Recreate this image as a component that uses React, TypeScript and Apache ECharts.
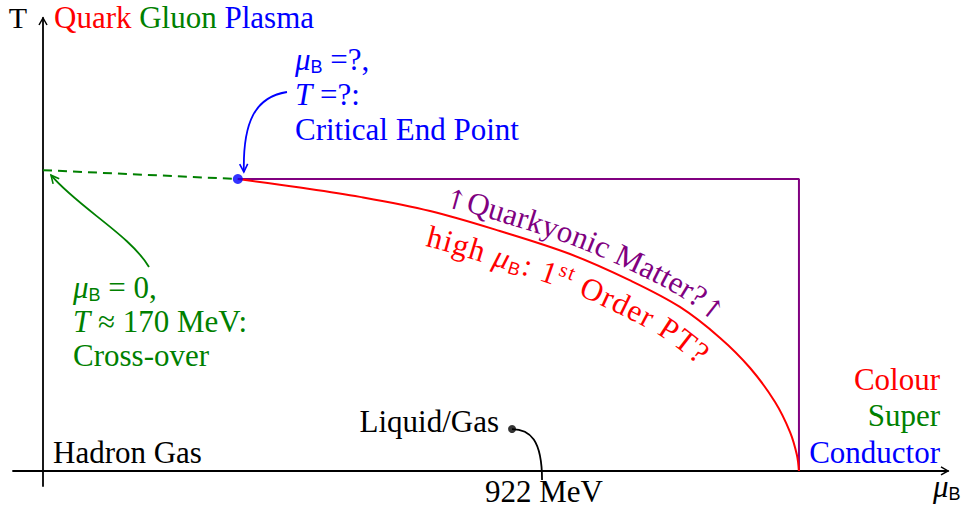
import React, { useEffect, useRef } from "react";
import * as echarts from "echarts";

const W = 972;
const H = 513;

// ---- data (baryon chemical potential mu_B and temperature T, MeV) ----
const crossoverMuB = [0, 383];
const crossoverT = [170, 165];
const firstOrderMuB = [383, 505, 623, 761, 898, 1036, 1154, 1252, 1331, 1390, 1439, 1468.5, 1482, 1486];
const firstOrderT = [165, 160.2, 154.9, 146.9, 135.6, 122.6, 107.7, 92.7, 75.2, 58.2, 39, 22, 9, 0];
const quarkyonicMuB = [383, 1486, 1486];
const quarkyonicT = [165, 165, 0];
const criticalEndPoint = [383, 165];
const liquidGasPoint = [922, 23.7];
const muBRange = [-59, 1779];
const tRange = [-8.5, 256];

const zip = (a: number[], b: number[]) => a.map((v, i) => [v, b[i]]);

// ---- fonts ----
const SERIF = "Liberation Serif, Times New Roman, serif";
const SANS = "Liberation Sans, Arial, sans-serif";
const ARROWF = "DejaVu Serif, serif";
const FS = 31;
const SUB = 18;
const SUP = 21;

type Tok = { t: string; fam: string; size: number; italic?: boolean; dy?: number; color?: string };
const R = (t: string, color?: string, size = FS): Tok => ({ t, fam: SERIF, size, color });
const I = (t: string): Tok => ({ t, fam: SERIF, size: FS, italic: true });
const Sb = (t: string): Tok => ({ t, fam: SANS, size: SUB, dy: 3 });
const Sp = (t: string): Tok => ({ t, fam: SERIF, size: SUP, dy: -11 });
const Ar = (t: string): Tok => ({ t, fam: ARROWF, size: 27, dy: 1 });

const BLUE = "#0000ff";
const GREEN = "#008000";
const RED = "#ff0000";
const PURPLE = "#800080";
const BLACK = "#000000";

let ctx: CanvasRenderingContext2D | null = null;
function getCtx() {
  if (!ctx) ctx = document.createElement("canvas").getContext("2d");
  return ctx!;
}
const fontOf = (k: Tok) => `${k.italic ? "italic " : ""}${k.size}px ${k.fam}`;
function measure(k: Tok, s: string) {
  const c = getCtx();
  c.font = fontOf(k);
  return c.measureText(s).width;
}
function central(k: Tok) {
  const c = getCtx();
  c.font = fontOf(k);
  const m: any = c.measureText("Hg");
  if (m.fontBoundingBoxAscent) return (m.fontBoundingBoxAscent - m.fontBoundingBoxDescent) / 2;
  return 0.34 * k.size;
}

function textEl(k: Tok, s: string, x: number, y: number, color: string, rotation: number, align: string) {
  return {
    type: "text",
    x,
    y,
    rotation,
    silent: true,
    z: 100,
    style: {
      text: s,
      fill: color,
      font: fontOf(k),
      align,
      verticalAlign: "middle",
    },
  };
}

function hline(toks: Tok[], x: number, baseline: number, color: string, align: "left" | "right" | "center") {
  const widths = toks.map((k) => measure(k, k.t));
  const total = widths.reduce((a, b) => a + b, 0);
  let cx = align === "left" ? x : align === "right" ? x - total : x - total / 2;
  const out: any[] = [];
  toks.forEach((k) => {
    const lead = (k.t.match(/^ */) as RegExpMatchArray)[0];
    const body = k.t.slice(lead.length);
    cx += measure(k, lead);
    if (body.trim().length) {
      out.push(textEl(k, body, cx, baseline + (k.dy || 0) - central(k), k.color || color, 0, "left"));
    }
    cx += measure(k, body);
  });
  return out;
}

function catmullRom(P: number[][], n = 30) {
  const out: number[][] = [];
  for (let i = 0; i < P.length - 1; i++) {
    const p0 = P[Math.max(i - 1, 0)];
    const p1 = P[i];
    const p2 = P[i + 1];
    const p3 = P[Math.min(i + 2, P.length - 1)];
    for (let j = 0; j < n; j++) {
      const t = j / n;
      const t2 = t * t;
      const t3 = t2 * t;
      const f = (a: number, b: number, c: number, d: number) =>
        0.5 * (2 * b + (-a + c) * t + (2 * a - 5 * b + 4 * c - d) * t2 + (-a + 3 * b - 3 * c + d) * t3);
      out.push([f(p0[0], p1[0], p2[0], p3[0]), f(p0[1], p1[1], p2[1], p3[1])]);
    }
  }
  out.push(P[P.length - 1]);
  return out;
}

function offsetPath(D: number[][], raise: number) {
  const Q = D.map((p, i) => {
    const a = D[Math.max(i - 4, 0)];
    const b = D[Math.min(i + 4, D.length - 1)];
    let tx = b[0] - a[0];
    let ty = b[1] - a[1];
    const l = Math.hypot(tx, ty) || 1;
    tx /= l;
    ty /= l;
    return [p[0] + ty * raise, p[1] - tx * raise];
  });
  const S = [0];
  for (let i = 1; i < Q.length; i++) S.push(S[i - 1] + Math.hypot(Q[i][0] - Q[i - 1][0], Q[i][1] - Q[i - 1][1]));
  return { Q, S };
}

function at(Q: number[][], S: number[], s: number) {
  let j = 0;
  while (j < S.length - 2 && S[j + 1] < s) j++;
  const seg = S[j + 1] - S[j] || 1;
  const t = (s - S[j]) / seg;
  const p = [Q[j][0] + (Q[j + 1][0] - Q[j][0]) * t, Q[j][1] + (Q[j + 1][1] - Q[j][1]) * t];
  const a = Q[Math.max(j - 4, 0)];
  const b = Q[Math.min(j + 5, Q.length - 1)];
  const tx = b[0] - a[0];
  const ty = b[1] - a[1];
  const l = Math.hypot(tx, ty) || 1;
  return { p, t: [tx / l, ty / l] };
}

function sAtX(Q: number[][], S: number[], x: number) {
  for (let j = 0; j < Q.length - 1; j++) {
    if (Q[j][0] <= x && Q[j + 1][0] >= x) {
      const t = (x - Q[j][0]) / (Q[j + 1][0] - Q[j][0] || 1);
      return S[j] + (S[j + 1] - S[j]) * t;
    }
  }
  return x < Q[0][0] ? 0 : S[S.length - 1];
}

function pathText(toks: Tok[], D: number[][], raise: number, startX: number, endX: number, color: string) {
  const { Q, S } = offsetPath(D, raise);
  const glyphs: { k: Tok; ch: string; w: number }[] = [];
  toks.forEach((k) => {
    for (const ch of Array.from(k.t)) glyphs.push({ k, ch, w: measure(k, ch) });
  });
  const s0 = sAtX(Q, S, startX);
  const s1 = sAtX(Q, S, endX);
  const total = glyphs.reduce((a, g) => a + g.w, 0);
  const gap = glyphs.length > 1 ? (s1 - s0 - total) / (glyphs.length - 1) : 0;
  let s = s0;
  const out: any[] = [];
  glyphs.forEach((g) => {
    const sc = s + g.w / 2;
    const { p, t } = at(Q, S, sc);
    const up = [t[1], -t[0]];
    const off = -(g.k.dy || 0) + central(g.k);
    if (g.ch !== " ") {
      out.push(textEl(g.k, g.ch, p[0] + up[0] * off, p[1] + up[1] * off, g.k.color || color, -Math.atan2(t[1], t[0]), "center"));
    }
    s += g.w + gap;
  });
  return out;
}

function arrowHead(tip: number[], from: number[], color: string, len = 8, half = 4, lw = 1.6) {
  let dx = tip[0] - from[0];
  let dy = tip[1] - from[1];
  const l = Math.hypot(dx, dy) || 1;
  dx /= l;
  dy /= l;
  const bx = tip[0] - dx * len;
  const by = tip[1] - dy * len;
  return {
    type: "polyline",
    silent: true,
    z: 90,
    shape: {
      points: [
        [bx - dy * half, by + dx * half],
        [tip[0], tip[1]],
        [bx + dy * half, by - dx * half],
      ],
    },
    style: { stroke: color, lineWidth: lw, fill: null, lineJoin: "miter" },
  };
}

function bezier(p0: number[], c1: number[], c2: number[], p3: number[], color: string, lw = 1.8) {
  return {
    type: "bezierCurve",
    silent: true,
    z: 90,
    shape: { x1: p0[0], y1: p0[1], cpx1: c1[0], cpy1: c1[1], cpx2: c2[0], cpy2: c2[1], x2: p3[0], y2: p3[1] },
    style: { stroke: color, lineWidth: lw, fill: null },
  };
}

const axisCommon = {
  type: "value",
  axisLine: { show: true, onZero: true, lineStyle: { color: BLACK, width: 1.8 } },
  axisTick: { show: false },
  axisLabel: { show: false },
  splitLine: { show: false },
};

const option: any = {
  animation: false,
  backgroundColor: "#ffffff",
  grid: { left: 13, right: 24, top: 18, bottom: 27, containLabel: false },
  xAxis: { ...axisCommon, min: muBRange[0], max: muBRange[1] },
  yAxis: { ...axisCommon, min: tRange[0], max: tRange[1] },
  series: [
    {
      name: "Cross-over",
      type: "line",
      data: zip(crossoverMuB, crossoverT),
      symbol: "none",
      silent: true,
      lineStyle: { color: GREEN, width: 2, type: [9, 6] },
      z: 3,
    },
    {
      name: "Quarkyonic",
      type: "line",
      data: zip(quarkyonicMuB, quarkyonicT),
      symbol: "none",
      silent: true,
      lineStyle: { color: PURPLE, width: 2 },
      z: 3,
    },
    {
      name: "First order",
      type: "line",
      data: zip(firstOrderMuB, firstOrderT),
      symbol: "none",
      smooth: 0.35,
      silent: true,
      lineStyle: { color: RED, width: 2 },
      z: 4,
    },
    {
      name: "Critical End Point",
      type: "scatter",
      data: [criticalEndPoint],
      symbolSize: 10,
      silent: true,
      itemStyle: { color: BLUE },
      z: 5,
    },
    {
      name: "Liquid/Gas",
      type: "scatter",
      data: [liquidGasPoint],
      symbolSize: 8,
      silent: true,
      itemStyle: { color: BLACK },
      z: 5,
    },
  ],
};

function buildGraphics(chart: echarts.ECharts) {
  const px = (p: number[]) => chart.convertToPixel({ gridIndex: 0 }, p) as number[];
  const els: any[] = [];

  // axis arrow heads
  const xEnd = px([muBRange[1], 0]);
  const yEnd = px([0, tRange[1]]);
  els.push(arrowHead(xEnd, [xEnd[0] - 10, xEnd[1]], BLACK, 7, 4, 1.5));
  els.push(arrowHead(yEnd, [yEnd[0], yEnd[1] + 10], BLACK, 7, 4, 1.5));

  // axis titles
  els.push(...hline([R("T", BLACK, 30)], 18, 27.5, BLACK, "center"));
  els.push(...hline([R("Quark ", RED, 31), R("Gluon ", GREEN, 31), R("Plasma", BLUE, 31)], 54, 27.5, BLACK, "left"));
  els.push(...hline([I("μ"), Sb("B")], 933, 497, BLACK, "left"));

  // critical end point annotation
  const cep = px(criticalEndPoint);
  const cepTip = [cep[0] + 6, cep[1] - 7];
  const cepC2 = [cep[0] + 5, cep[1] - 57];
  els.push(bezier([287, 92], [255, 97], cepC2, cepTip, BLUE));
  els.push(arrowHead(cepTip, cepC2, BLUE, 8, 4));
  els.push(...hline([I("μ"), Sb("B"), R(" =?,")], 295, 70, BLUE, "left"));
  els.push(...hline([I("T"), R(" =?:")], 295, 104.5, BLUE, "left"));
  els.push(...hline([R("Critical End Point")], 295, 139.5, BLUE, "left"));

  // cross-over annotation
  const co = px([crossoverMuB[0], crossoverT[0]]);
  const coTip = [co[0] + 8, co[1] + 5];
  const coC2 = [co[0] + 35, co[1] + 37];
  els.push(bezier([149, 267], [130, 235], coC2, coTip, GREEN));
  els.push(arrowHead(coTip, coC2, GREEN, 8, 4));
  els.push(...hline([I("μ"), Sb("B"), R(" = 0,")], 73, 298, GREEN, "left"));
  els.push(...hline([I("T"), R(" ≈ 170 MeV:")], 73, 332, GREEN, "left"));
  els.push(...hline([R("Cross-over")], 73, 366, GREEN, "left"));

  // hadron gas
  els.push(...hline([R("Hadron Gas")], 53, 463, BLACK, "left"));

  // liquid / gas
  const lg = px(liquidGasPoint);
  els.push(bezier(lg, [lg[0] + 18, lg[1]], [lg[0] + 30, lg[1] + 11], [lg[0] + 30, lg[1] + 51], BLACK, 1.8));
  els.push(...hline([R("Liquid/Gas")], 499, 431.5, BLACK, "right"));
  els.push(...hline([R("922 MeV")], 544, 501.5, BLACK, "center"));

  // colour super conductor
  els.push(...hline([R("Colour")], 940, 390, RED, "right"));
  els.push(...hline([R("Super")], 940, 425.5, GREEN, "right"));
  els.push(...hline([R("Conductor")], 940, 463, BLUE, "right"));

  // texts along the first-order line
  const D = catmullRom(zip(firstOrderMuB, firstOrderT).map(px));
  els.push(...pathText([Ar("↑"), R("Quarkyonic Matter?"), Ar("↑")], D, 9, 443, 716, PURPLE));
  els.push(
    ...pathText(
      [R("high "), I("μ"), Sb("B"), R(": 1"), Sp("st"), R(" Order PT?")],
      D,
      -35,
      425,
      698,
      RED
    )
  );
  return els;
}

export default function App() {
  const ref = useRef<HTMLDivElement>(null);
  useEffect(() => {
    if (!ref.current) return;
    const chart = echarts.init(ref.current, null, { renderer: "svg", width: W, height: H });
    chart.setOption(option);
    chart.setOption({ graphic: { elements: buildGraphics(chart) } });
    return () => chart.dispose();
  }, []);
  return (
    <div
      ref={ref}
      style={{ position: "fixed", left: 0, top: 0, width: W, height: H, background: "#fff" }}
    />
  );
}
